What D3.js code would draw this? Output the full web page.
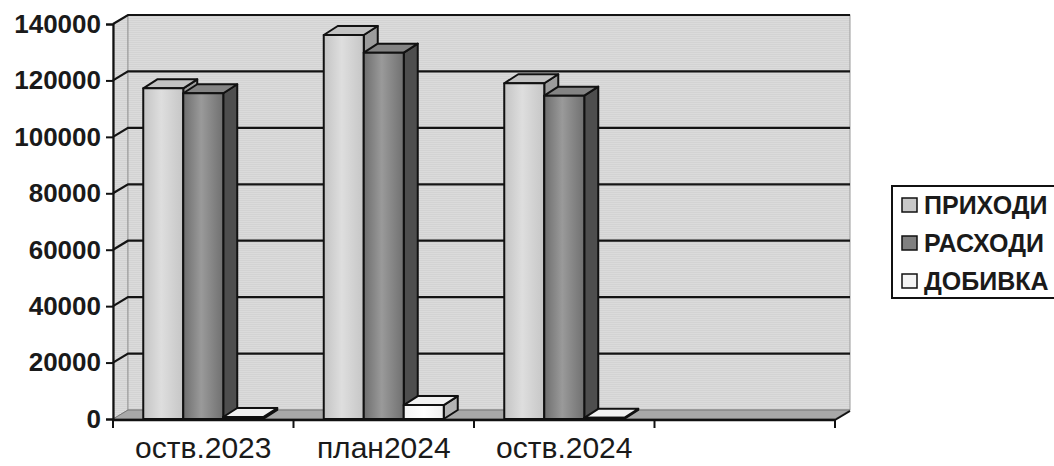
<!DOCTYPE html>
<html><head><meta charset="utf-8">
<script src="https://cdn.jsdelivr.net/npm/d3@7/dist/d3.min.js"></script>
<style>
html,body{margin:0;padding:0;background:#fff;}
svg{display:block;}
text{font-family:"Liberation Sans",Arial,sans-serif;}
</style></head>
<body>
<svg id="chart" width="1054" height="466"></svg>
<script>
const categories = ["оств.2023", "план2024", "оств.2024", ""];
const seriesNames = ["ПРИХОДИ", "РАСХОДИ", "ДОБИВКА"];
const prihodi = [117200, 136100, 119000, null];
const rashodi = [115450, 129850, 114600, null];
const dobivka = [700, 4950, 400, null];
const yTicks = [0, 20000, 40000, 60000, 80000, 100000, 120000, 140000];

const svg = d3.select("#chart");
const X0 = 113, X1 = 835, Y0 = 419, YT = 24;
const DX = 15, DY = -9;     // wall depth offset
const BDX = 14, BDY = -9;   // bar depth offset

const y = d3.scaleLinear().domain([0, 140000]).range([Y0, YT]);
const x = d3.scaleBand().domain(categories).range([X0, X1]).paddingInner(0).paddingOuter(0);
const xs = d3.scaleBand().domain(seriesNames)
  .range([x.bandwidth() * 0.1676, x.bandwidth() * (1 - 0.1676)]).paddingInner(0);

const defs = svg.append("defs");
const pat = defs.append("pattern").attr("id", "wallTex").attr("width", 2).attr("height", 2)
  .attr("patternUnits", "userSpaceOnUse");
pat.append("rect").attr("width", 2).attr("height", 2).attr("fill", "#dbdbdb");
pat.append("rect").attr("width", 2).attr("height", 1).attr("fill", "#d3d3d3");

function grad(id, stops) {
  const g = defs.append("linearGradient").attr("id", id).attr("x1", "0%").attr("x2", "100%");
  stops.forEach(s => g.append("stop").attr("offset", s[0]).attr("stop-color", s[1]));
}
grad("gLight", [["0%", "#c4c4c4"], ["45%", "#dedede"], ["100%", "#c6c6c6"]]);
grad("gDark", [["0%", "#6e6e6e"], ["45%", "#9a9a9a"], ["100%", "#707070"]]);
grad("gWhite", [["0%", "#f4f4f4"], ["50%", "#ffffff"], ["100%", "#f0f0f0"]]);

const styles = {
  "ПРИХОДИ": {front: "url(#gLight)", top: "#c2c2c2", side: "#9c9c9c", sw: "#c8c8c8"},
  "РАСХОДИ": {front: "url(#gDark)", top: "#848484", side: "#4e4e4e", sw: "#808080"},
  "ДОБИВКА": {front: "url(#gWhite)", top: "#f2f2f2", side: "#b4b4b4", sw: "#f4f4f4"}
};

// walls
const wall = svg.append("g");
wall.append("path")
  .attr("d", `M${X0},${y(140000)} L${X0 + DX},${y(140000) + DY} L${X0 + DX},${Y0 + DY} L${X0},${Y0} Z`)
  .attr("fill", "url(#wallTex)").attr("stroke", "#9a9a9a").attr("stroke-width", 1);
wall.append("rect")
  .attr("x", X0 + DX).attr("y", y(140000) + DY)
  .attr("width", X1 - X0).attr("height", Y0 - y(140000))
  .attr("fill", "url(#wallTex)").attr("stroke", "#9a9a9a").attr("stroke-width", 1);

// gridlines
const grid = svg.append("g");
yTicks.filter(v => v > 0).forEach(v => {
  grid.append("path")
    .attr("d", `M${X0},${y(v)} L${X0 + DX},${y(v) + DY} L${X1 + DX},${y(v) + DY}`)
    .attr("fill", "none").attr("stroke", "#141414").attr("stroke-width", 2.2);
});

// floor
svg.append("path")
  .attr("d", `M${X0},${Y0} L${X0 + DX},${Y0 + DY} L${X1 + DX},${Y0 + DY} L${X1},${Y0} Z`)
  .attr("fill", "#a8a8a8").attr("stroke", "#777").attr("stroke-width", 1);

// bars
const data = [prihodi, rashodi, dobivka];
const barG = svg.append("g");
categories.forEach((c, ci) => {
  seriesNames.forEach((s, si) => {
    const v = data[si][ci];
    if (v == null) return;
    const bx = x(c) + xs(s), bw = xs.bandwidth();
    const yt = y(v), yb = y(0);
    const st = styles[s];
    const g = barG.append("g").attr("stroke", "#111").attr("stroke-width", 2).attr("stroke-linejoin", "round");
    g.append("path")
      .attr("d", `M${bx + bw},${yt} L${bx + bw + BDX},${yt + BDY} L${bx + bw + BDX},${yb + BDY} L${bx + bw},${yb} Z`)
      .attr("fill", st.side);
    g.append("path")
      .attr("d", `M${bx},${yt} L${bx + BDX},${yt + BDY} L${bx + bw + BDX},${yt + BDY} L${bx + bw},${yt} Z`)
      .attr("fill", st.top);
    g.append("rect").attr("x", bx).attr("y", yt).attr("width", bw).attr("height", Math.max(0, yb - yt))
      .attr("fill", st.front);
  });
});

// y axis
const yAxis = svg.append("g").attr("transform", `translate(${X0},0)`)
  .call(d3.axisLeft(y).tickValues(yTicks).tickSize(7).tickPadding(5).tickFormat(d3.format("d")));
yAxis.select(".domain").attr("stroke", "#111").attr("stroke-width", 2.2);
yAxis.selectAll(".tick line").attr("stroke", "#111").attr("stroke-width", 2);
yAxis.selectAll(".tick text").attr("font-size", 26).attr("font-weight", "bold")
  .attr("fill", "#1a1a1a").attr("font-family", "'Liberation Sans', Arial, sans-serif");

// x axis
const xAxisG = svg.append("g");
xAxisG.append("line").attr("x1", X0).attr("x2", X1).attr("y1", Y0 + 1).attr("y2", Y0 + 1)
  .attr("stroke", "#111").attr("stroke-width", 2.4);
xAxisG.append("line").attr("x1", X1).attr("x2", X1 + DX).attr("y1", Y0 + 1).attr("y2", Y0 + 1 + DY)
  .attr("stroke", "#111").attr("stroke-width", 2);
const bounds = categories.map(c => x(c)).concat([X1]);
bounds.forEach(b => {
  xAxisG.append("line").attr("x1", b).attr("x2", b).attr("y1", Y0 + 1).attr("y2", Y0 + 9)
    .attr("stroke", "#111").attr("stroke-width", 2);
});
categories.forEach(c => {
  if (!c) return;
  xAxisG.append("text").attr("x", x(c) + x.bandwidth() / 2).attr("y", 458)
    .attr("text-anchor", "middle").attr("font-size", 30).attr("fill", "#1a1a1a")
    .text(c);
});

// legend
const lg = svg.append("g");
lg.append("rect").attr("x", 892).attr("y", 186).attr("width", 170).attr("height", 112)
  .attr("fill", "#fff").attr("stroke", "#111").attr("stroke-width", 2);
seriesNames.forEach((s, i) => {
  const cy = 205 + i * 38;
  lg.append("rect").attr("x", 902).attr("y", cy - 7).attr("width", 15).attr("height", 14)
    .attr("fill", styles[s].sw).attr("stroke", "#111").attr("stroke-width", 1.5);
  lg.append("text").attr("x", 924).attr("y", cy + 9).attr("font-size", 25).attr("font-weight", "bold")
    .attr("fill", "#1a1a1a").text(s);
});
</script>
</body></html>
